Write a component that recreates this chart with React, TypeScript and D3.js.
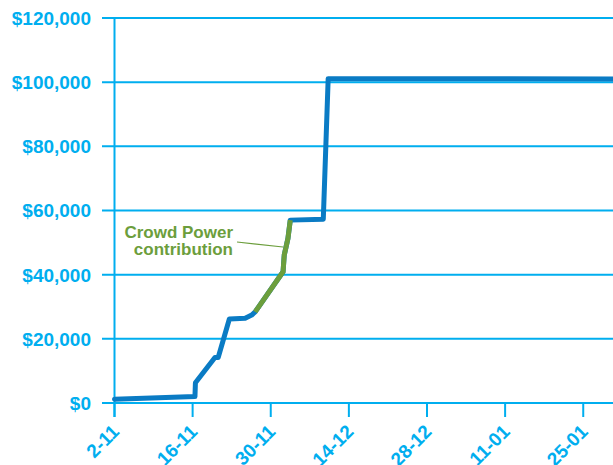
import React from 'react';
import * as d3 from 'd3';

const W = 613;
const H = 465;

// raised amount over time
const dates = [
  '2015-11-02T00:00', '2015-11-16T10:00', '2015-11-16T12:00', '2015-11-20T00:00',
  '2015-11-20T14:00', '2015-11-22T14:00', '2015-11-25T10:00', '2015-11-26T14:00',
  '2015-11-27T05:00', '2015-12-02T05:00', '2015-12-02T10:00', '2015-12-03T02:00',
  '2015-12-03T12:00', '2015-12-09T10:00', '2015-12-10T07:00', '2016-01-31T00:00'
];
const amounts = [
  1200, 2000, 6300, 14200,
  14200, 26200, 26400, 27400,
  28400, 40900, 46100, 51300,
  57000, 57300, 101100, 101000
];
// index range of the Crowd Power part
const crowdStart = 8;
const crowdEnd = 12;

const yTicks = [0, 20000, 40000, 60000, 80000, 100000, 120000];
const xTicks = ['2015-11-02', '2015-11-16', '2015-11-30', '2015-12-14', '2015-12-28', '2016-01-11', '2016-01-25'];
const annotation = ['Crowd Power', 'contribution'];

const CYAN = '#00aeef';
const BLUE = '#0a7bc4';
const GREEN = '#6c9e3c';
const FONT = '"Liberation Sans", Arial, sans-serif';

export default function App() {
  const parse = (s: string) => new Date(s);
  const x = d3.scaleTime()
    .domain([parse('2015-11-02T00:00'), parse('2016-01-30T08:00')])
    .range([114.5, W]);
  const y = d3.scaleLinear().domain([0, 120000]).range([403, 18]);

  const pts = dates.map((d, i) => [x(parse(d)), y(amounts[i])] as [number, number]);
  const line = d3.line();
  const fmtY = (v: number) => '$' + d3.format(',')(v);
  const fmtX = d3.timeFormat('%-d-%m');

  const x0 = x(parse(xTicks[0]));

  return (
    <svg width={W} height={H} style={{position: 'absolute', left: 0, top: 0}} fontFamily={FONT}>
      {yTicks.map(t => (
        <g key={t}>
          <line x1={102} x2={W} y1={y(t)} y2={y(t)} stroke={CYAN} strokeWidth={2} />
          <text x={91} y={y(t)} dy="0.36em" textAnchor="end" fill={CYAN}
            fontSize={19} fontWeight="bold">{fmtY(t)}</text>
        </g>
      ))}
      <line x1={x0} x2={x0} y1={y(120000)} y2={417} stroke={CYAN} strokeWidth={2} />
      {xTicks.map(t => {
        const tx = x(parse(t));
        return (
          <g key={t}>
            <line x1={tx} x2={tx} y1={y(0)} y2={417} stroke={CYAN} strokeWidth={2} />
            <text transform={`translate(${tx + 1},428) rotate(-45)`} dy="0.36em" textAnchor="end"
              fill={CYAN} fontSize={19} fontWeight="bold">{fmtX(parse(t))}</text>
          </g>
        );
      })}
      <path d={line(pts) || ''} fill="none" stroke={BLUE} strokeWidth={5}
        strokeLinejoin="round" strokeLinecap="round" />
      <path d={line(pts.slice(crowdStart, crowdEnd + 1)) || ''} fill="none" stroke={GREEN}
        strokeWidth={5} strokeLinejoin="round" />
      <line x1={237} y1={242} x2={283} y2={247} stroke={GREEN} strokeWidth={1.2} />
      {annotation.map((s, i) => (
        <text key={s} x={233} y={238 + i * 17} textAnchor="end" fill={GREEN}
          fontSize={17} fontWeight="bold">{s}</text>
      ))}
    </svg>
  );
}
